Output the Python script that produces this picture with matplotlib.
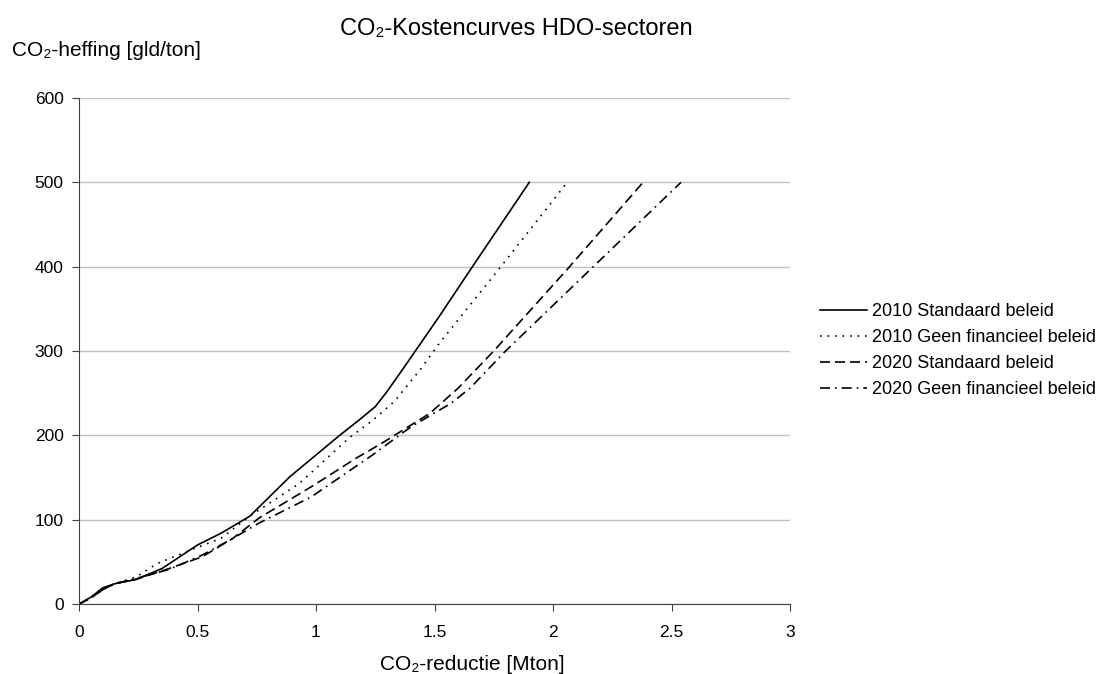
import matplotlib
matplotlib.use("Agg")
import matplotlib.pyplot as plt

plt.rcParams['font.family'] = ['Liberation Sans', 'DejaVu Sans']

# data (x: Mton, y: gld/ton)
x_2010_std = [0, 0.05, 0.10, 0.15, 0.24, 0.35, 0.50, 0.60, 0.72, 0.89, 1.10, 1.19, 1.25, 1.30, 1.37, 1.52, 1.66, 1.90]
y_2010_std = [0, 8, 19, 24, 29, 42, 70, 84, 104, 151, 200, 220, 234, 252, 280, 341, 400, 500]

x_2010_geen = [0, 0.05, 0.10, 0.15, 0.24, 0.33, 0.48, 0.60, 0.72, 0.93, 1.14, 1.24, 1.33, 1.44, 1.52, 1.78, 2.06]
y_2010_geen = [0, 8, 19, 24, 32, 48, 65, 78, 104, 143, 197, 218, 240, 278, 309, 400, 500]

x_2020_std = [0, 0.05, 0.10, 0.15, 0.25, 0.38, 0.52, 0.65, 0.76, 0.98, 1.17, 1.28, 1.48, 1.60, 1.75, 2.07, 2.38]
y_2020_std = [0, 7, 17, 24, 30, 42, 56, 78, 102, 139, 173, 191, 226, 256, 300, 400, 500]

x_2020_geen = [0, 0.05, 0.10, 0.15, 0.25, 0.38, 0.52, 0.65, 0.76, 0.98, 1.24, 1.40, 1.57, 1.65, 1.80, 2.17, 2.54]
y_2020_geen = [0, 7, 17, 24, 31, 41, 58, 78, 96, 127, 177, 210, 238, 256, 300, 400, 500]

labels = ['2010 Standaard beleid', '2010 Geen financieel beleid',
          '2020 Standaard beleid', '2020 Geen financieel beleid']

fig = plt.figure(figsize=(11.03, 6.74), dpi=100)
ax = fig.add_axes([79/1103, 1-604/674, (790-79)/1103, (604-98)/674])

ax.plot(x_2010_std, y_2010_std, color='black', lw=1.2, label=labels[0])
ax.plot(x_2010_geen, y_2010_geen, color='black', lw=1.2, dashes=(1, 3.5), label=labels[1])
ax.plot(x_2020_std, y_2020_std, color='black', lw=1.2, dashes=(6, 3), label=labels[2])
ax.plot(x_2020_geen, y_2020_geen, color='black', lw=1.2, dashes=(6, 3, 1, 3), label=labels[3])

ax.set_xlim(0, 3)
ax.set_ylim(0, 600)
ax.set_xticks([0, 0.5, 1, 1.5, 2, 2.5, 3])
ax.set_xticklabels(['0', '0.5', '1', '1.5', '2', '2.5', '3'])
ax.set_yticks(range(0, 601, 100))
ax.yaxis.grid(True, color='#c0c0c0', lw=1)
ax.set_axisbelow(True)
for s in ['top', 'right']:
    ax.spines[s].set_visible(False)
for s in ['left', 'bottom']:
    ax.spines[s].set_color('#404040')
ax.tick_params(direction='out', length=5, color='#404040', labelsize=12.5)
ax.tick_params(axis='x', pad=10)
ax.tick_params(axis='y', pad=6)

fig.text(516/1103, 1-35/674, 'CO₂-Kostencurves HDO-sectoren', ha='center', va='baseline', fontsize=17)
fig.text(12/1103, 1-56.5/674, 'CO₂-heffing [gld/ton]', ha='left', va='baseline', fontsize=15)
fig.text(472/1103, 1-670/674, 'CO₂-reductie [Mton]', ha='center', va='baseline', fontsize=15)

fig.legend(loc='center left', bbox_to_anchor=(804/1103, 1-350.5/674), frameon=False,
           fontsize=13, handlelength=2.6, handletextpad=0.25, labelspacing=0.5)

fig.savefig('out.png', dpi=100)
